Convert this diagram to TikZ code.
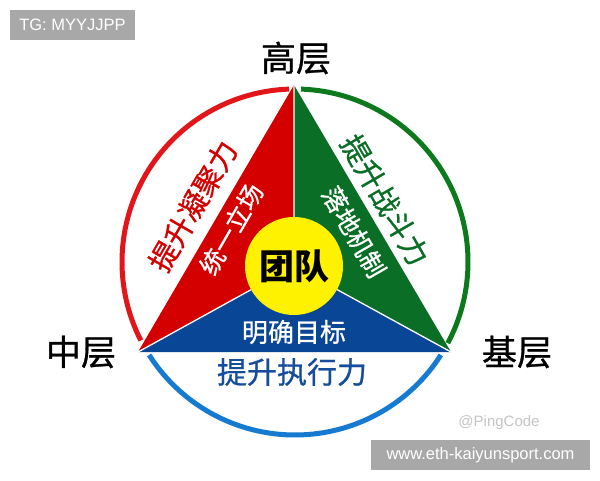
\documentclass[tikz,border=0pt]{standalone}
\usepackage{fontspec}
\setmainfont{Liberation Sans}
\newfontfamily\cjk{Noto Sans CJK SC}
\newfontfamily\cjkm[FakeBold=0.8]{Noto Sans CJK SC}
\definecolor{redF}{RGB}{212,0,0}
\definecolor{redA}{RGB}{226,22,26}
\definecolor{greenF}{RGB}{10,110,38}
\definecolor{greenA}{RGB}{12,122,28}
\definecolor{blueF}{RGB}{10,70,150}
\definecolor{blueA}{RGB}{22,122,208}
\definecolor{blueT}{RGB}{22,76,156}
\definecolor{wmbox}{RGB}{168,168,168}
\definecolor{wmtext}{RGB}{196,196,196}
\begin{document}
\begin{tikzpicture}[x=1pt,y=1pt,
  level/.style={font=\cjkm\fontsize{35}{38}\selectfont, text=black, inner sep=0},
  outer/.style={font=\cjkm\fontsize{29}{32}\selectfont, inner sep=0},
  inner/.style={font=\cjkm\fontsize{25}{28}\selectfont, text=white, inner sep=0},
  arcline/.style={line width=5pt},
  wm/.style={fill=wmbox, text=white, font=\fontsize{16.5}{19}\selectfont, inner sep=0}]
\useasboundingbox (0,0) rectangle (600,480);
\fill[white] (0,0) rectangle (600,480);
\coordinate (C) at (295,218);
\coordinate (T) at (294,395);
\coordinate (L) at (138,128);
\coordinate (R) at (451,128);
\coordinate (M) at (294,214);
% segments
\fill[redF] (T) -- (L) -- (M) -- cycle;
\fill[greenF] (T) -- (R) -- (M) -- cycle;
\fill[blueF] (L) -- (R) -- (M) -- cycle;
\draw[white, line width=1.3pt] (M) -- (T) (M) -- (L) (M) -- (R);
% arcs
\draw[redA, arcline] ([shift={(92:173)}]C) arc[start angle=92, end angle=207, radius=173];
\draw[greenA, arcline] ([shift={(88:173)}]C) arc[start angle=88, end angle=-28, radius=173];
\draw[blueA, arcline] ([shift={(212.5:173)}]C) arc[start angle=212.5, end angle=327.5, radius=173];
% centre
\node[circle, fill=yellow, minimum size=98pt, inner sep=0, font=\cjk\bfseries\fontsize{35}{38}\selectfont, text=black] (team) at (M) {团队};
% level labels
\node[level] (top) at (296,422) {高层};
\node[level] (mid) at (81,128) {中层};
\node[level] (base) at (517,128) {基层};
% texts
\node[outer, text=redF, rotate=60] (t1) at (193,274) {提升凝聚力};
\node[inner, rotate=60] (t2) at (231,251) {统一立场};
\node[outer, text=greenF, rotate=-60] (t3) at (385,280) {提升战斗力};
\node[inner, rotate=-60] (t4) at (354,248) {落地机制};
\node[inner, font=\cjkm\fontsize{26}{28}\selectfont] (t5) at (294,148) {明确目标};
\node[outer, text=blueT, font=\cjkm\fontsize{30}{32}\selectfont] (t6) at (292,108) {提升执行力};
% watermarks
\node[wm, minimum width=125pt, minimum height=30pt] (wm1) at (72.5,455) {TG: MYYJJPP};
\node[wm, minimum width=219pt, minimum height=30pt] (wm2) at (480.5,25) {www.eth-kaiyunsport.com};
\node[text=wmtext, font=\fontsize{15}{17}\selectfont, inner sep=0] (wm3) at (499,57) {@PingCode};
\end{tikzpicture}
\end{document}
